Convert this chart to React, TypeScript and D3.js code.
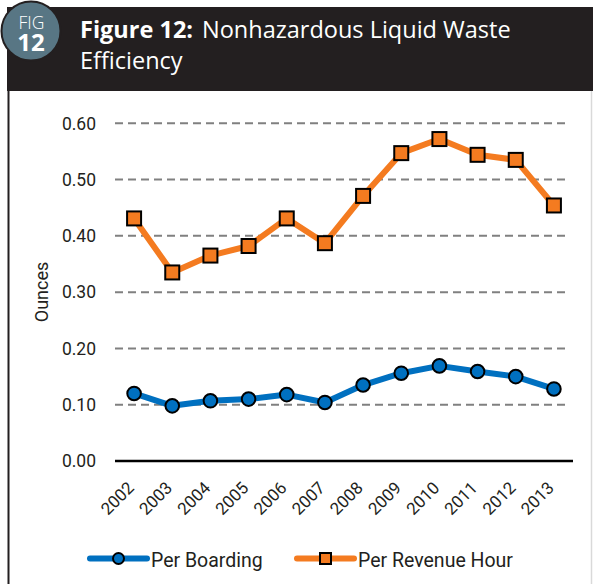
import React from "react";
import * as d3 from "d3";

const years = ["2002","2003","2004","2005","2006","2007","2008","2009","2010","2011","2012","2013"];
const perBoarding = [0.120,0.098,0.107,0.110,0.118,0.104,0.135,0.156,0.169,0.159,0.150,0.128];
const perRevenueHour = [0.431,0.335,0.365,0.382,0.431,0.387,0.471,0.547,0.572,0.544,0.535,0.454];
const yTicks = [0,0.1,0.2,0.3,0.4,0.5,0.6];

const W = 593, H = 584;
const BLUE = "#0070c0";
const ORANGE = "#f47b20";
const TICKFONT = "Roboto, 'DejaVu Sans', sans-serif";
const TITLEFONT = "'Open Sans', Lato, sans-serif";

export default function App() {
  const x = d3.scaleBand<string>().domain(years).range([115, 573]);
  const y = d3.scaleLinear().domain([0, 0.6]).range([461, 123.3]);
  const cx = (d: string) => (x(d) as number) + x.bandwidth() / 2;
  const line = d3.line<number>().x((_, i) => cx(years[i])).y((v) => y(v));

  return (
    <svg width={W} height={H} style={{ position: "fixed", left: 0, top: 0, background: "#fff" }}>
      {/* frame */}
      <rect x={0} y={0} width={W} height={H} fill="#fff" />
      <line x1={8.5} x2={8.5} y1={88} y2={H} stroke="#231f20" strokeWidth={2} />
      <line x1={591.5} x2={591.5} y1={88} y2={H} stroke="#d9d9d9" strokeWidth={1.5} />
      <rect x={7} y={7} width={W - 7} height={84} fill="#231f20" />
      <circle cx={31} cy={31} r={29.5} fill="#587684" stroke="#231f20" strokeWidth={2} />
      <text textAnchor="middle" fill="#fff" fontFamily={TITLEFONT}>
        <tspan x={31.5} y={28.5} fontSize={17.5} fontWeight={300}>FIG</tspan>
        <tspan x={31} y={51} fontSize={24} fontWeight={700}>12</tspan>
      </text>
      <text x={80} y={37.5} fill="#fff" fontFamily={TITLEFONT} fontSize={23.5}>
        <tspan fontWeight={700}>Figure 12:</tspan>
        <tspan dx={9}>Nonhazardous Liquid Waste</tspan>
      </text>
      <text x={80} y={68.5} fill="#fff" fontFamily={TITLEFONT} fontSize={23.5}>Efficiency</text>

      {/* grid */}
      {yTicks.filter((t) => t > 0).map((t) => (
        <line key={t} x1={115} x2={570} y1={y(t)} y2={y(t)} stroke="#808080" strokeWidth={2} strokeDasharray="8,5" />
      ))}
      <line x1={115} x2={573} y1={y(0)} y2={y(0)} stroke="#000" strokeWidth={2.5} />

      {/* y ticks */}
      {yTicks.map((t) => (
        <text key={t} x={96} y={y(t)} dy="0.36em" textAnchor="end" fontFamily={TICKFONT} fontSize={17.5} fill="#231f20">
          {d3.format(".2f")(t)}
        </text>
      ))}
      <text transform={`translate(48,292) rotate(-90)`} textAnchor="middle" fontFamily={TICKFONT} fontSize={18} fill="#231f20">Ounces</text>

      {/* x ticks */}
      {years.map((yr) => (
        <text key={yr} transform={`translate(${cx(yr) + 1},${489}) rotate(-45)`} textAnchor="end" fontFamily={TICKFONT} fontSize={17} fill="#231f20">
          {yr}
        </text>
      ))}

      {/* lines */}
      <path d={line(perRevenueHour) as string} fill="none" stroke={ORANGE} strokeWidth={6} strokeLinejoin="round" />
      <path d={line(perBoarding) as string} fill="none" stroke={BLUE} strokeWidth={6} strokeLinejoin="round" />
      {perRevenueHour.map((v, i) => (
        <rect key={i} x={cx(years[i]) - 7} y={y(v) - 7} width={14} height={14} fill={ORANGE} stroke="#000" strokeWidth={2} />
      ))}
      {perBoarding.map((v, i) => (
        <circle key={i} cx={cx(years[i])} cy={y(v)} r={6.8} fill={BLUE} stroke="#000" strokeWidth={2} />
      ))}

      {/* legend */}
      <line x1={90} x2={147} y1={558.5} y2={558.5} stroke={BLUE} strokeWidth={6} strokeLinecap="round" />
      <circle cx={118.5} cy={558.5} r={5.5} fill={BLUE} stroke="#000" strokeWidth={2} />
      <text x={151} y={566.5} fontFamily={TICKFONT} fontSize={19.5} fill="#231f20">Per Boarding</text>
      <line x1={297} x2={354} y1={558.5} y2={558.5} stroke={ORANGE} strokeWidth={6} strokeLinecap="round" />
      <rect x={320} y={553} width={11} height={11} fill={ORANGE} stroke="#000" strokeWidth={2} />
      <text x={358} y={566.5} fontFamily={TICKFONT} fontSize={19.5} fill="#231f20">Per Revenue Hour</text>
    </svg>
  );
}
